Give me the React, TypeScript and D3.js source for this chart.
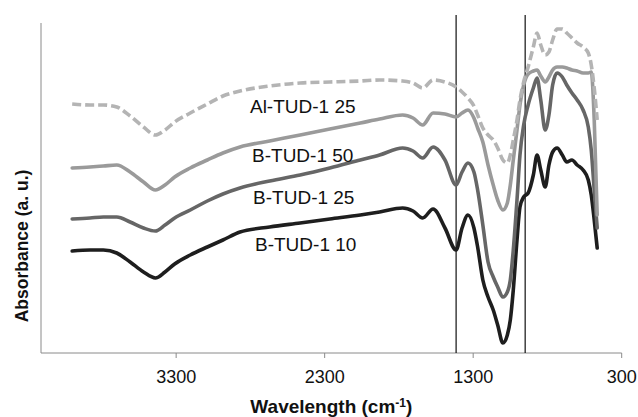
import React from "react";
import * as d3 from "d3";

const wavenumbers = [4000, 3880, 3790, 3700, 3610, 3520, 3440, 3375, 3310, 3205, 3090, 2985, 2870, 2670, 2465, 2265, 2060, 1930, 1775, 1705, 1640, 1570, 1490, 1415, 1375, 1335, 1295, 1270, 1235, 1200, 1165, 1135, 1100, 1070, 1050, 1030, 1005, 985, 960, 930, 895, 870, 845, 815, 790, 765, 735, 700, 670, 635, 600, 560, 525, 505, 485, 465];

// absorbance (a.u.), offset stacked as in the picture
const alTud25 = [2.49, 2.48, 2.48, 2.46, 2.37, 2.26, 2.18, 2.23, 2.31, 2.40, 2.49, 2.57, 2.62, 2.67, 2.70, 2.71, 2.72, 2.73, 2.72, 2.70, 2.65, 2.73, 2.71, 2.66, 2.61, 2.55, 2.47, 2.38, 2.25, 2.18, 2.13, 2.05, 1.93, 1.90, 1.98, 2.13, 2.33, 2.53, 2.71, 2.86, 3.06, 3.20, 3.08, 2.98, 3.01, 3.13, 3.24, 3.24, 3.20, 3.15, 3.10, 3.06, 3.00, 2.88, 2.65, 2.33];
const bTud50 = [1.85, 1.86, 1.87, 1.88, 1.81, 1.71, 1.63, 1.68, 1.76, 1.85, 1.93, 2.00, 2.06, 2.12, 2.18, 2.24, 2.30, 2.34, 2.38, 2.35, 2.28, 2.40, 2.39, 2.36, 2.40, 2.43, 2.35, 2.25, 2.11, 1.88, 1.68, 1.53, 1.43, 1.50, 1.68, 1.93, 2.23, 2.48, 2.68, 2.79, 2.82, 2.83, 2.77, 2.71, 2.76, 2.83, 2.86, 2.86, 2.85, 2.83, 2.82, 2.80, 2.80, 2.81, 2.33, 1.38];
const bTud25 = [1.34, 1.35, 1.36, 1.36, 1.31, 1.25, 1.22, 1.28, 1.35, 1.43, 1.52, 1.59, 1.65, 1.72, 1.78, 1.85, 1.93, 1.98, 2.05, 2.02, 1.95, 2.06, 1.93, 1.68, 1.81, 1.90, 1.81, 1.63, 1.28, 0.91, 0.76, 0.66, 0.56, 0.61, 0.73, 1.03, 1.53, 1.98, 2.28, 2.48, 2.65, 2.75, 2.53, 2.23, 2.38, 2.68, 2.80, 2.76, 2.68, 2.60, 2.53, 2.43, 2.26, 2.03, 1.63, 1.25];
const bTud10 = [1.02, 1.03, 1.03, 1.00, 0.91, 0.81, 0.75, 0.81, 0.89, 0.98, 1.06, 1.13, 1.21, 1.26, 1.30, 1.34, 1.38, 1.41, 1.45, 1.42, 1.35, 1.44, 1.25, 1.03, 1.25, 1.38, 1.25, 1.06, 0.73, 0.56, 0.43, 0.28, 0.10, 0.18, 0.33, 0.63, 1.13, 1.46, 1.56, 1.60, 1.78, 1.98, 1.83, 1.66, 1.88, 2.01, 2.05, 1.98, 1.91, 1.93, 1.88, 1.83, 1.73, 1.58, 1.33, 1.05];

const seriesNames = ["B-TUD-1 10", "B-TUD-1 25", "B-TUD-1 50", "Al-TUD-1 25"];
const seriesValues = [bTud10, bTud25, bTud50, alTud25];
const seriesColors = ["#1e1e1e", "#666666", "#9a9a9a", "#b4b4b4"];
const seriesDash = [null, null, null, "9,4"];

const xTicks = [3300, 2300, 1300, 300];
const markerLines = [1415, 950];

const labelTexts = ["Al-TUD-1 25", "B-TUD-1 50", "B-TUD-1 25", "B-TUD-1 10"];
const labelAnchors = [[2803, 2.4], [2789, 1.91], [2782, 1.49], [2769, 1.02]];

const W = 638;
const H = 417;
const left = 41;
const right = 621.7;
const top = 23;
const bottom = 353;

export default function App() {
  const x = d3.scaleLinear().domain([4210, 300]).range([left, right]);
  const y = d3.scaleLinear().domain([0, 3.3]).range([bottom, top]);
  const line = d3
    .line<[number, number]>()
    .x((d) => x(d[0]))
    .y((d) => y(d[1]))
    .curve(d3.curveMonotoneX);

  const font = "'Liberation Sans', Arial, sans-serif";

  return (
    <svg
      width={W}
      height={H}
      style={{ position: "absolute", left: 0, top: 0, background: "#fff" }}
      fontFamily={font}
    >
      <rect width={W} height={H} fill="#fff" />
      {/* axes */}
      <line x1={left} x2={left} y1={top} y2={bottom} stroke="#8a8a8a" strokeWidth={1} />
      <line x1={left} x2={right} y1={bottom} y2={bottom} stroke="#8a8a8a" strokeWidth={1} />
      {xTicks.map((t) => (
        <g key={t}>
          <line x1={x(t)} x2={x(t)} y1={bottom} y2={bottom + 5} stroke="#8a8a8a" />
          <text x={x(t)} y={383} fontSize={18} textAnchor="middle" fill="#111">
            {t}
          </text>
        </g>
      ))}
      {/* marker lines */}
      {markerLines.map((m) => (
        <line key={m} x1={x(m)} x2={x(m)} y1={15} y2={bottom} stroke="#111" strokeWidth={1.2} />
      ))}
      {/* series */}
      {seriesValues.map((vals, i) => (
        <path
          key={seriesNames[i]}
          d={line(wavenumbers.map((w, j) => [w, vals[j]] as [number, number])) || ""}
          fill="none"
          stroke={seriesColors[i]}
          strokeWidth={3.6}
          strokeLinejoin="round"
          strokeLinecap={seriesDash[i] ? "butt" : "round"}
          strokeDasharray={seriesDash[i] || undefined}
        />
      ))}
      {/* labels */}
      {labelTexts.map((t, i) => (
        <text key={t} x={x(labelAnchors[i][0])} y={y(labelAnchors[i][1])} fontSize={19} fill="#111">
          {t}
        </text>
      ))}
      {/* axis titles */}
      <text x={(left + right) / 2} y={413} fontSize={19} fontWeight="bold" textAnchor="middle" fill="#111">
        Wavelength (cm
        <tspan fontSize={12} dy={-6}>-1</tspan>
        <tspan dy={6}>)</tspan>
      </text>
      <text
        transform={`translate(28,246) rotate(-90)`}
        fontSize={17.5}
        fontWeight="bold"
        textAnchor="middle"
        fill="#111"
      >
        Absorbance (a. u.)
      </text>
    </svg>
  );
}
